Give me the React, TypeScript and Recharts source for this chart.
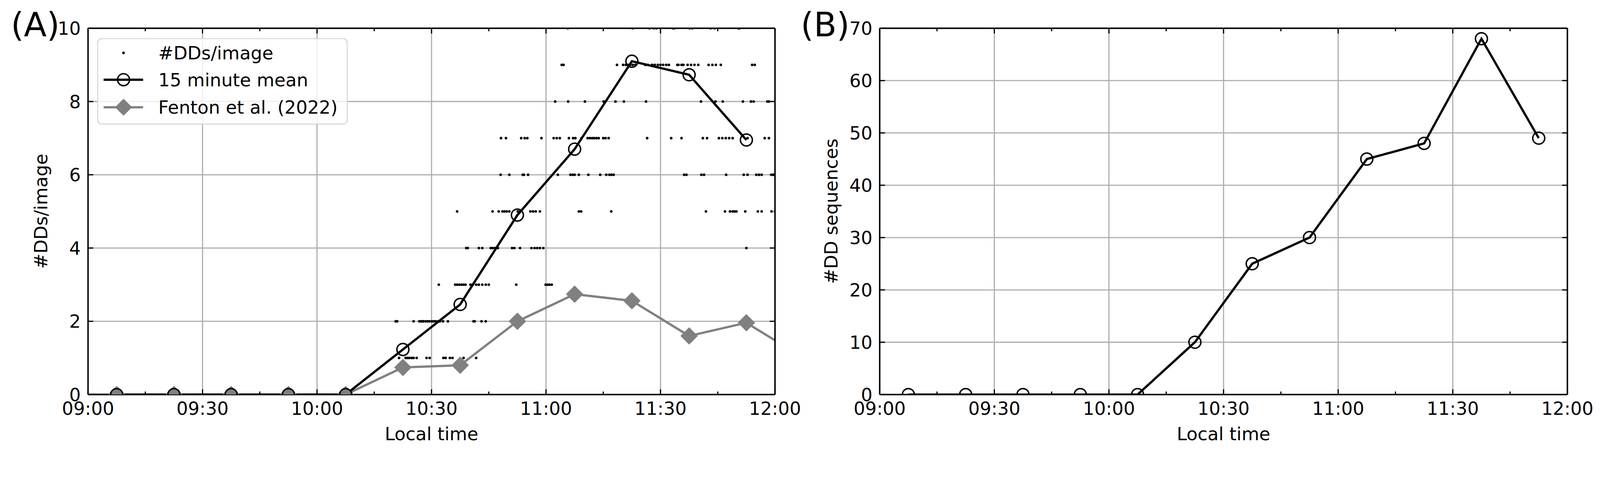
import React from 'react';
import { ComposedChart, Line, Scatter, XAxis, YAxis, CartesianGrid, Legend } from 'recharts';

const FONT = "'DejaVu Sans', 'Liberation Sans', sans-serif";

// ---- data (minutes after 09:00 local time) ----
const binTimes = [7.5, 22.5, 37.5, 52.5, 67.5, 82.5, 97.5, 112.5, 127.5, 142.5, 157.5, 172.5];
const meanPerImage = [0, 0, 0, 0, 0, 1.23, 2.46, 4.9, 6.7, 9.1, 8.73, 6.95];
const fentonTimes = [-7.5, 7.5, 22.5, 37.5, 52.5, 67.5, 82.5, 97.5, 112.5, 127.5, 142.5, 157.5, 172.5, 187.5];
const fentonValues = [0, 0, 0, 0, 0, 0, 0.74, 0.8, 2.0, 2.74, 2.56, 1.6, 1.96, 1.0];
const sequenceCounts = [0, 0, 0, 0, 0, 10, 25, 30, 45, 48, 68, 49];

// times of single images, grouped by the number of DDs seen in that image
const dd1 = [81.5, 83.2, 83.7, 84.2, 84.8, 85.3, 86.1, 88.7, 89.5, 93.1, 93.7, 94.8, 95.5, 98.4, 101.7];
const dd2 = [80.6, 81.0, 85.3, 86.8, 87.2, 87.5, 87.9, 88.5, 89.0, 89.5, 90.1, 90.6, 91.1, 91.7, 92.2, 93.0, 94.3, 101.0, 101.3, 103.1, 104.2];
const dd3 = [91.9, 96.2, 96.7, 97.3, 97.9, 98.4, 98.9, 100.2, 100.8, 101.7, 102.4, 103.3, 104.2, 105.0, 112.2, 119.9, 120.4, 120.9, 121.5];
const dd4 = [99.1, 99.5, 102.4, 103.3, 105.5, 106.0, 106.6, 107.4, 111.1, 111.7, 113.2, 116.2, 117.0, 117.7, 118.4, 119.3, 172.5];
const dd5 = [96.7, 106.0, 107.6, 108.6, 109.1, 109.7, 110.4, 112.6, 113.2, 115.9, 116.6, 117.3, 118.4, 128.6, 129.2, 137.1, 161.9, 166.9, 168.2, 168.9, 169.4, 169.9, 172.2, 175.5, 176.5, 179.1, 180.0];
const dd6 = [108.1, 110.4, 113.9, 114.2, 115.3, 123.1, 126.4, 127.0, 127.5, 128.6, 131.1, 134.2, 135.8, 136.6, 137.1, 137.7, 156.2, 156.8, 160.7, 161.4, 167.2, 171.8, 172.8, 175.1, 175.8, 176.5, 179.1, 179.6];
const dd7 = [108.2, 109.5, 113.5, 114.4, 115.1, 118.8, 122.0, 122.8, 123.6, 126.0, 127.1, 127.7, 129.3, 130.9, 131.5, 132.1, 132.6, 133.2, 133.8, 135.0, 135.6, 136.4, 146.5, 152.8, 155.5, 161.1, 162.2, 165.3, 166.2, 167.1, 168.0, 168.9, 172.8, 177.3, 178.4];
const dd8 = [122.4, 125.8, 130.2, 135.1, 138.2, 140.4, 146.2, 160.6, 164.4, 166.3, 171.6, 173.7, 174.4, 178.0, 178.4];
const dd9 = [124.1, 124.6, 138.6, 140.2, 140.9, 141.5, 142.0, 142.7, 143.4, 146.0, 146.7, 147.8, 148.5, 149.3, 150.0, 150.7, 151.5, 152.2, 154.4, 154.7, 155.5, 156.0, 157.1, 158.0, 158.9, 159.9, 162.6, 163.6, 164.5, 165.8, 174.0, 174.7];
const dd10 = [125.7, 142.7, 147.1, 148.2, 148.9, 153.3, 153.6, 157.6, 158.3, 163.1, 164.2, 170.4, 170.7];
const ddRows = [dd1, dd2, dd3, dd4, dd5, dd6, dd7, dd8, dd9, dd10];

const xAllTicks = [0, 15, 30, 45, 60, 75, 90, 105, 120, 135, 150, 165, 180];
const xMajorTicks = [0, 30, 60, 90, 120, 150, 180];
const xMajorLabels = ['09:00', '09:30', '10:00', '10:30', '11:00', '11:30', '12:00'];
const yTicksA = [0, 2, 4, 6, 8, 10];
const yTicksB = [0, 10, 20, 30, 40, 50, 60, 70];

const meanData = binTimes.map((t, i) => ({ t, v: meanPerImage[i] }));
const fentonData = fentonTimes.map((t, i) => ({ t, v: fentonValues[i] }));
const seqData = binTimes.map((t, i) => ({ t, v: sequenceCounts[i] }));
const ddData = ddRows.flatMap((row, i) => row.map((t) => ({ t, v: i + 1 })));

// ---- styles ----
const W = 4416;
const H = 1257;
const MAJOR = 14.6;
const MINOR = 8.3;
const TW = 3.3;
const GRID = '#b0b0b0';
const GRAY = '#808080';
const FS = 50;

const BottomTick = (p: any) => {
  const v = p.payload.value;
  const idx = xMajorTicks.indexOf(v);
  const major = idx >= 0;
  return (
    <g>
      <line x1={p.x} x2={p.x} y1={p.y} y2={p.y - (major ? MAJOR : MINOR)} stroke="#000" strokeWidth={TW} />
      {major && (
        <text x={p.x} y={p.y + 56} textAnchor="middle" fontSize={FS} fontFamily={FONT} fill="#000">
          {xMajorLabels[idx]}
        </text>
      )}
    </g>
  );
};

const TopTick = (p: any) => {
  const v = p.payload.value;
  const major = xMajorTicks.indexOf(v) >= 0;
  return <line x1={p.x} x2={p.x} y1={p.y} y2={p.y + (major ? MAJOR : MINOR)} stroke="#000" strokeWidth={TW} />;
};

const LeftTick = (p: any) => (
  <g>
    <line x1={p.x} x2={p.x + MAJOR} y1={p.y} y2={p.y} stroke="#000" strokeWidth={TW} />
    <text x={p.x - 20} y={p.y + 18} textAnchor="end" fontSize={FS} fontFamily={FONT} fill="#000">
      {String(p.payload.value)}
    </text>
  </g>
);

const RightTick = (p: any) => (
  <line x1={p.x} x2={p.x - MAJOR} y1={p.y} y2={p.y} stroke="#000" strokeWidth={TW} />
);

const OpenCircle = (p: any) => {
  if (p.cx == null || p.cy == null) return <g key={p.key} />;
  return <circle key={p.key} cx={p.cx} cy={p.cy} r={16.5} fill="none" stroke="#000" strokeWidth={4} />;
};

const Diamond = (p: any) => {
  if (p.cx == null || p.cy == null) return <g key={p.key} />;
  const h = 23.5;
  const pts = `${p.cx},${p.cy - h} ${p.cx + h},${p.cy} ${p.cx},${p.cy + h} ${p.cx - h},${p.cy}`;
  return <polygon key={p.key} points={pts} fill={GRAY} stroke={GRAY} strokeWidth={1} />;
};

const SmallDot = (p: any) => <circle cx={p.cx} cy={p.cy} r={3.6} fill="#000" />;

const LegendBox = () => (
  <svg width={692} height={239} style={{ display: 'block' }}>
    <rect x={1.5} y={1.5} width={689} height={236} rx={12} ry={12} fill="rgba(255,255,255,0.8)" stroke="#d6d6d6" strokeWidth={3} />
    <circle cx={73} cy={41} r={3.6} fill="#000" />
    <text x={169} y={59} fontSize={FS} fontFamily={FONT} fill="#000">#DDs/image</text>
    <line x1={18} x2={127} y1={115} y2={115} stroke="#000" strokeWidth={6.25} />
    <circle cx={73} cy={115} r={16.5} fill="none" stroke="#000" strokeWidth={4} />
    <text x={169} y={133} fontSize={FS} fontFamily={FONT} fill="#000">15 minute mean</text>
    <line x1={18} x2={127} y1={191} y2={191} stroke={GRAY} strokeWidth={6.25} />
    <polygon points="73,167.5 96.5,191 73,214.5 49.5,191" fill={GRAY} />
    <text x={169} y={209} fontSize={FS} fontFamily={FONT} fill="#000">Fenton et al. (2022)</text>
  </svg>
);

const axisLine = { stroke: '#000', strokeWidth: 4 };

function viewportScale() {
  if (typeof window === 'undefined') return 1;
  const vw = window.innerWidth || W;
  const vh = window.innerHeight || H;
  const k = Math.min(vw / W, vh / H);
  return k > 0 && k < 1 ? k : 1;
}

export default function App() {
  const k = viewportScale();
  return (
    <div style={{ position: 'absolute', left: 0, top: 0, width: W * k, height: H * k, overflow: 'hidden', background: '#fff' }}>
      <div style={{ position: 'absolute', left: 0, top: 0, width: W, height: H, transform: `scale(${k})`, transformOrigin: '0 0' }}>
        {/* Panel A: plot area x 243..2139, y 78..1089 */}
        <div style={{ position: 'absolute', left: 0, top: 0 }}>
          <ComposedChart width={2300} height={H} margin={{ top: 77, right: 160, bottom: 167, left: 242 }}>
            <XAxis dataKey="t" type="number" domain={[0, 180]} ticks={xMajorTicks} allowDataOverflow hide height={0} />
            <CartesianGrid stroke={GRID} strokeWidth={TW} />
            <YAxis type="number" domain={[0, 10]} ticks={yTicksA} allowDataOverflow width={1}
              tick={LeftTick} tickSize={0} tickMargin={0} tickLine={false} axisLine={axisLine} interval={0} />
            <XAxis xAxisId="b" dataKey="t" type="number" domain={[0, 180]} ticks={xAllTicks} allowDataOverflow height={1}
              tick={BottomTick} tickSize={0} tickMargin={0} tickLine={false} axisLine={axisLine} interval={0} />
            <XAxis xAxisId="t" orientation="top" dataKey="t" type="number" domain={[0, 180]} ticks={xAllTicks} allowDataOverflow height={1}
              tick={TopTick} tickSize={0} tickMargin={0} tickLine={false} axisLine={axisLine} interval={0} />
            <YAxis yAxisId="r" orientation="right" type="number" domain={[0, 10]} ticks={yTicksA} allowDataOverflow width={1}
              tick={RightTick} tickSize={0} tickMargin={0} tickLine={false} axisLine={axisLine} interval={0} />
            <Scatter name="#DDs/image" data={ddData} dataKey="v" shape={SmallDot} isAnimationActive={false} legendType="none" />
            <Line name="Fenton et al. (2022)" data={fentonData} dataKey="v" type="linear" stroke={GRAY} strokeWidth={6.25}
              dot={Diamond} activeDot={false} isAnimationActive={false} />
            <Line name="15 minute mean" data={meanData} dataKey="v" type="linear" stroke="#000" strokeWidth={6.25}
              dot={OpenCircle} activeDot={false} isAnimationActive={false} />
            <Legend layout="vertical" align="center" verticalAlign="middle" content={LegendBox}
              wrapperStyle={{ position: 'absolute', left: 268, top: 105, width: 692, height: 239 }} />
          </ComposedChart>
        </div>

        {/* Panel B: plot area x 2428..4326, y 78..1089 */}
        <div style={{ position: 'absolute', left: 2180, top: 0 }}>
          <ComposedChart width={2236} height={H} margin={{ top: 77, right: 89, bottom: 167, left: 247 }}>
            <XAxis dataKey="t" type="number" domain={[0, 180]} ticks={xMajorTicks} allowDataOverflow hide height={0} />
            <CartesianGrid stroke={GRID} strokeWidth={TW} />
            <YAxis type="number" domain={[0, 70]} ticks={yTicksB} allowDataOverflow width={1}
              tick={LeftTick} tickSize={0} tickMargin={0} tickLine={false} axisLine={axisLine} interval={0} />
            <XAxis xAxisId="b" dataKey="t" type="number" domain={[0, 180]} ticks={xAllTicks} allowDataOverflow height={1}
              tick={BottomTick} tickSize={0} tickMargin={0} tickLine={false} axisLine={axisLine} interval={0} />
            <XAxis xAxisId="t" orientation="top" dataKey="t" type="number" domain={[0, 180]} ticks={xAllTicks} allowDataOverflow height={1}
              tick={TopTick} tickSize={0} tickMargin={0} tickLine={false} axisLine={axisLine} interval={0} />
            <YAxis yAxisId="r" orientation="right" type="number" domain={[0, 70]} ticks={yTicksB} allowDataOverflow width={1}
              tick={RightTick} tickSize={0} tickMargin={0} tickLine={false} axisLine={axisLine} interval={0} />
            <Line name="#DD sequences" data={seqData} dataKey="v" type="linear" stroke="#000" strokeWidth={6.25}
              dot={OpenCircle} activeDot={false} isAnimationActive={false} />
          </ComposedChart>
        </div>

        {/* titles and axis labels */}
        <svg width={W} height={H} style={{ position: 'absolute', left: 0, top: 0, pointerEvents: 'none' }}>
          <g fontFamily={FONT} fill="#000">
            <text x={30} y={100} fontSize={92}>(A)</text>
            <text x={2210} y={100} fontSize={92}>(B)</text>
            <text x={1191} y={1215} fontSize={FS} textAnchor="middle">Local time</text>
            <text x={3377} y={1215} fontSize={FS} textAnchor="middle">Local time</text>
            <text transform="translate(130,583) rotate(-90)" fontSize={FS} textAnchor="middle">#DDs/image</text>
            <text transform="translate(2311,583) rotate(-90)" fontSize={FS} textAnchor="middle">#DD sequences</text>
          </g>
        </svg>
      </div>
    </div>
  );
}
